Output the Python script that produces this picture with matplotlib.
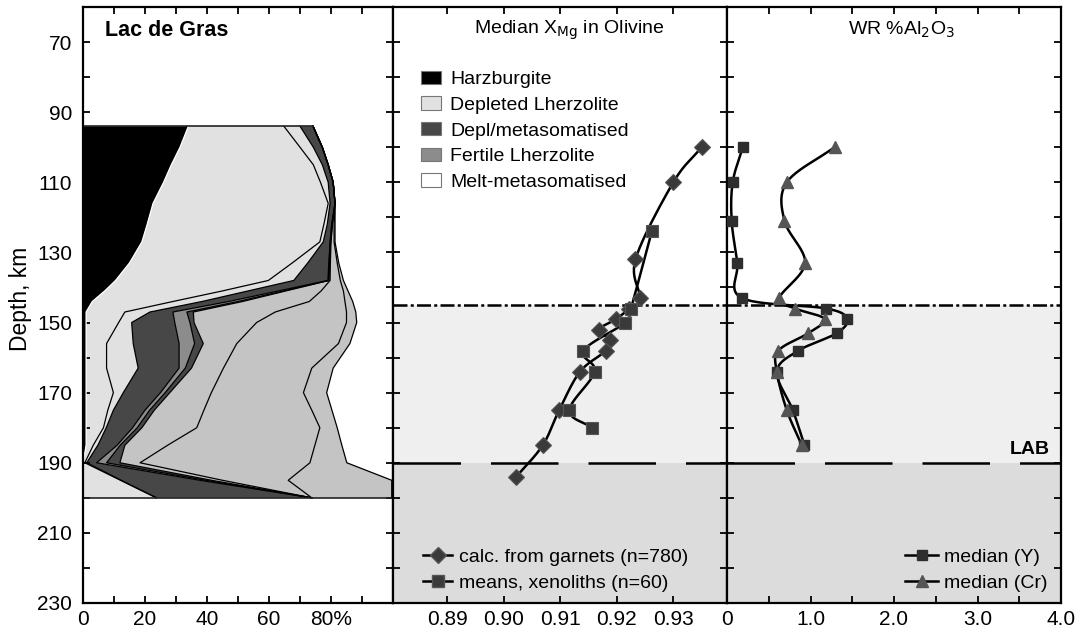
import numpy as np
import matplotlib
matplotlib.use("Agg")
import matplotlib.pyplot as plt
from matplotlib.lines import Line2D
from matplotlib.patches import Patch

plt.rcParams['font.family'] = ['Liberation Sans', 'DejaVu Sans']

# ---------------- data ----------------
# Left panel: rock-type proportions (%) versus depth (km)
depth_levels = [94, 100, 105, 110, 116, 122, 127, 133, 138, 141, 144, 147, 150, 156, 163, 170, 175, 180, 185, 190, 195, 200]
harzburgite = [34, 31.3, 28.5, 26, 22.6, 20.7, 19, 15, 10.5, 7, 3, 1, 1, 1, 1, 1, 1, 1, 1, 0, 0, 0]
depleted_lhz = [30.8, 38.7, 45.8, 50.6, 56.5, 57, 57.4, 52.5, 49.3, 37.9, 26, 12.5, 10.5, 6.6, 6.6, 8.8, 7, 5.6, 2.3, 0.6, 12.1, 23.6]
depleted_lhz_b = [5.2, 4.3, 2.9, 2.5, 0.6, 1.1, 1.1, 5, 8.2, 8.3, 9.4, 8.1, 4.2, 8.6, 10.2, 3.2, 1.8, 0.9, 1.5, 0.6, 0.2, 0.2]
depl_metasom = [4.2, 2.9, 1.9, 1.6, 1.6, 1.4, 2.2, 6.8, 11, 9.8, 8.6, 7.4, 13.9, 14.8, 13.2, 12, 10.2, 8.5, 6.2, 3.2, 25.4, 50]
fertile_lhz = [0, 0, 0, 0, 0, 0.1, 0.1, 0.1, 0.2, 1.6, 3, 4.5, 4.9, 5, 2, 1.5, 1.5, 1.5, 1, 3.2, 1.8, 0]
depl_metasom_b = [0, 0, 0, 0, 0, 0.1, 0.1, 0.1, 0.2, 0.8, 1.5, 2.1, 1.3, 2.8, 2, 1.5, 1.5, 1.5, 1.5, 4.3, 2, 0]
other_a = [0, 0, 0, 0, 0, 0.1, 0.1, 0.3, 0.3, 11.4, 21.5, 26.4, 20.2, 10.8, 10.3, 13.4, 16, 17.7, 13.8, 6.5, 3.5, 0]
other_b = [0, 0, 0, 0, 0, 0.5, 1, 2.2, 3.3, 7.2, 11.5, 23, 29, 32.8, 28.5, 29.7, 34.8, 39.7, 47.5, 54.8, 21.2, 0]
other_c = [0, 0, 0, 0, 0, 0.3, 0.3, 0.5, 1, 1.5, 2.5, 3, 3.3, 3.7, 6.9, 7.5, 6.5, 5.6, 8.7, 11.9, 33.4, 25.8]

legend_labels = ['Harzburgite', 'Depleted Lherzolite', 'Depl/metasomatised',
                 'Fertile Lherzolite', 'Melt-metasomatised']

# Middle panel: median XMg in olivine
garnet_depth = [100, 110, 132, 143, 146, 149, 152, 155, 158, 164, 175, 185, 194]
garnet_xmg = [0.935, 0.930, 0.9233, 0.9241, 0.9222, 0.9199, 0.9169, 0.9188, 0.9181, 0.9135, 0.9098, 0.9069, 0.9022]
xeno_depth = [124, 146, 150, 158, 164, 175, 180]
xeno_xmg = [0.9262, 0.9225, 0.9215, 0.9141, 0.9161, 0.9116, 0.9156]

# Right panel: WR %Al2O3
al_depth = [100, 110, 121, 133, 143, 146, 149, 153, 158, 164, 175, 185]
al_y = [0.188, 0.068, 0.056, 0.124, 0.176, 1.19, 1.437, 1.317, 0.856, 0.596, 0.788, 0.928]
al_cr = [1.288, 0.716, 0.688, 0.936, 0.628, 0.816, 1.168, 0.976, 0.616, 0.596, 0.716, 0.896]

depth_major = [70, 90, 110, 130, 150, 170, 190, 210, 230]
left_ticks = [0, 20, 40, 60, 80]
left_ticklabels = ['0', '20', '40', '60', '80%']
mid_ticks = [0.89, 0.90, 0.91, 0.92, 0.93]
right_ticklabels = ['0', '', '1.0', '', '2.0', '', '3.0', '', '4.0']
boundary_top = 145   # dash-dot line depth
lab_depth = 190      # LAB depth

# ---------------- helpers ----------------
def smooth(x, y, n=12):
    """Catmull-Rom curve through points (for drawing only)."""
    x = np.asarray(x, float); y = np.asarray(y, float)
    P = np.column_stack([x, y])
    P = np.vstack([2 * P[0] - P[1], P, 2 * P[-1] - P[-2]])
    out = []
    t = np.linspace(0, 1, n, endpoint=False)
    for i in range(1, len(P) - 2):
        p0, p1, p2, p3 = P[i - 1], P[i], P[i + 1], P[i + 2]
        tt = t[:, None]
        seg = 0.5 * ((2 * p1) + (-p0 + p2) * tt + (2 * p0 - 5 * p1 + 4 * p2 - p3) * tt ** 2
                     + (-p0 + 3 * p1 - 3 * p2 + p3) * tt ** 3)
        out.append(seg)
    out.append(P[-2][None, :])
    out = np.vstack(out)
    return out[:, 0], out[:, 1]

W, H = 1084, 634
fig = plt.figure(figsize=(W / 100, H / 100), dpi=100)
top_px, bot_px = 7, 603
def rect(l, r):
    return [l / W, 1 - bot_px / H, (r - l) / W, (bot_px - top_px) / H]

ax1 = fig.add_axes(rect(83, 393))
ax2 = fig.add_axes(rect(393, 727))
ax3 = fig.add_axes(rect(727, 1061))

FS = 15
for ax in (ax1, ax2, ax3):
    ax.set_ylim(230, 60)
    ax.set_yticks(np.arange(60, 231, 10))
    for s in ax.spines.values():
        s.set_linewidth(1.6)
    ax.tick_params(axis='both', which='both', direction='in', top=True, right=True,
                   length=5, width=1.3, labelsize=FS)
    ax.tick_params(axis='y', pad=8)
    ax.tick_params(axis='x', pad=5)

ax1.set_yticklabels([str(v) if v in depth_major else '' for v in range(60, 231, 10)])
ax2.set_yticklabels([])
ax3.set_yticklabels([])
ax1.set_ylabel('Depth, km', fontsize=16.5)
ax1.yaxis.set_label_coords(-0.163, 0.51)

# ---------------- left panel ----------------
layers = [harzburgite, depleted_lhz, depleted_lhz_b, depl_metasom, fertile_lhz,
          depl_metasom_b, other_a, other_b, other_c]
colors = ['#000000', '#e1e1e1', '#e1e1e1', '#474747', '#8c8c8c', '#474747',
          '#c4c4c4', '#c4c4c4', '#c4c4c4']
cum = np.zeros(len(depth_levels))
for vals, c in zip(layers, colors):
    new = cum + np.asarray(vals)
    ax1.fill_betweenx(depth_levels, cum, new, facecolor=c, edgecolor='none', zorder=1)
    cum = new
total = cum
cum = np.zeros(len(depth_levels))
for i, vals in enumerate(layers):
    new = cum + np.asarray(vals)
    ax1.plot(new, depth_levels, color='white' if i == 0 else 'black', lw=0.9, zorder=2)
    cum = new
ax1.plot([0, total[0]], [depth_levels[0]] * 2, color='#222222', lw=1.2, zorder=2)
ax1.plot([0, total[-1]], [depth_levels[-1]] * 2, color='#222222', lw=1.2, zorder=2)
ax1.set_xlim(0, 100)
ax1.set_xticks(left_ticks)
ax1.set_xticklabels(left_ticklabels)
ax1.set_xticks(np.arange(10, 100, 10), minor=True)
ax1.text(0.071, 0.961, 'Lac de Gras', transform=ax1.transAxes, fontsize=15.5,
         fontweight='bold', va='center', ha='left')

# ---------------- shading + boundaries ----------------
for ax in (ax2, ax3):
    ax.axhspan(boundary_top, lab_depth, color='#efefef', zorder=0, lw=0)
    ax.axhspan(lab_depth, 230, color='#dcdcdc', zorder=0, lw=0)
    ax.axhline(boundary_top, color='black', lw=1.8, dashes=(5.6, 1.3, 1.2, 1.3), zorder=1)
    ax.axhline(lab_depth, color='black', lw=1.8, dashes=(27, 12), zorder=1)

# ---------------- middle panel ----------------
gx, gy = smooth(garnet_xmg, garnet_depth)
ax2.plot(gx, gy, color='black', lw=1.8, zorder=3)
ax2.plot(garnet_xmg, garnet_depth, ls='none', marker='D', ms=8, mfc='#3a3a3a',
         mec='#555555', mew=0.8, zorder=4)
xx, xy = smooth(xeno_xmg, xeno_depth)
ax2.plot(xx, xy, color='black', lw=1.8, zorder=3)
ax2.plot(xeno_xmg, xeno_depth, ls='none', marker='s', ms=8, mfc='#3a3a3a',
         mec='#555555', mew=0.8, zorder=4)
ax2.set_xlim(0.8804, 0.9395)
ax2.set_xticks(mid_ticks)
ax2.set_xticklabels(['%.2f' % v for v in mid_ticks])
ax2.text(0.527, 0.961, r'Median X$_{\rm Mg}$ in Olivine', transform=ax2.transAxes,
         fontsize=14, ha='center', va='center')

patch_fc = ['#000000', '#e1e1e1', '#474747', '#8c8c8c', '#ffffff']
handles = [Patch(facecolor=c, edgecolor='#777777', lw=0.8) for c in patch_fc]
leg = ax2.legend(handles, legend_labels, loc='upper left', bbox_to_anchor=(0.084, 0.893),
                 frameon=False, fontsize=14, handlelength=1.0, handleheight=0.68,
                 handletextpad=0.5, labelspacing=0.42, borderpad=0, borderaxespad=0)
ax2.add_artist(leg)
h2 = [Line2D([], [], color='black', lw=1.8, marker='D', ms=8, mfc='#3a3a3a', mec='#555555'),
      Line2D([], [], color='black', lw=1.8, marker='s', ms=8, mfc='#3a3a3a', mec='#555555')]
ax2.legend(h2, ['calc. from garnets (n=780)', 'means, xenoliths (n=60)'], loc='lower left',
           bbox_to_anchor=(0.09, 0.018), frameon=False, fontsize=14, handlelength=1.5,
           handletextpad=0.35, labelspacing=0.45, borderpad=0, borderaxespad=0)

# ---------------- right panel ----------------
yx, yy = smooth(al_y, al_depth)
ax3.plot(yx, yy, color='black', lw=1.8, zorder=3)
ax3.plot(al_y, al_depth, ls='none', marker='s', ms=7.5, mfc='#2e2e2e', mec='#2e2e2e', zorder=4)
cx, cy = smooth(al_cr, al_depth)
ax3.plot(cx, cy, color='black', lw=1.8, zorder=3)
ax3.plot(al_cr, al_depth, ls='none', marker='^', ms=9, mfc='#555555', mec='#555555', zorder=4)
ax3.set_xlim(0, 4.0)
ax3.set_xticks(np.arange(0, 4.01, 0.5))
ax3.set_xticklabels(right_ticklabels)
ax3.text(0.521, 0.961, r'WR %Al$_2$O$_3$', transform=ax3.transAxes, fontsize=14,
         ha='center', va='center')
ax3.text(0.967, 0.258, 'LAB', transform=ax3.transAxes, fontsize=14, fontweight='bold',
         ha='right', va='center')
h3 = [Line2D([], [], color='black', lw=1.8, marker='s', ms=7.5, mfc='#2e2e2e', mec='#2e2e2e'),
      Line2D([], [], color='black', lw=1.8, marker='^', ms=9, mfc='#555555', mec='#555555')]
ax3.legend(h3, ['median (Y)', 'median (Cr)'], loc='lower left', bbox_to_anchor=(0.533, 0.018),
           frameon=False, fontsize=14, handlelength=1.7, handletextpad=0.3, labelspacing=0.45,
           borderpad=0, borderaxespad=0)

fig.savefig('out.png', dpi=100)
